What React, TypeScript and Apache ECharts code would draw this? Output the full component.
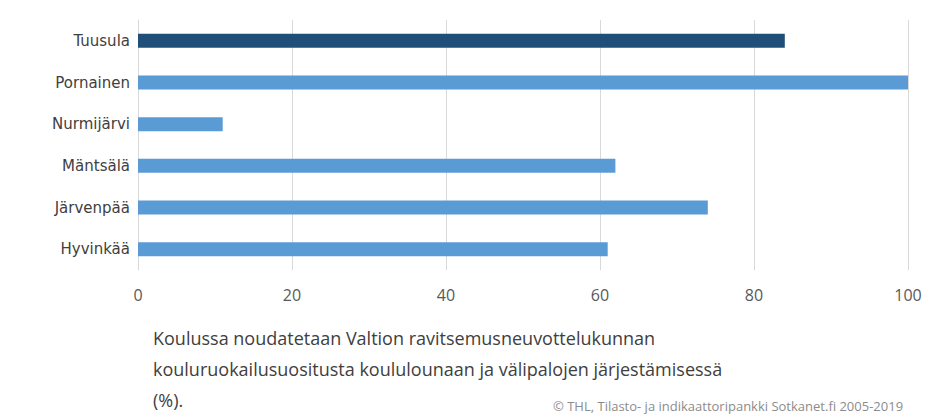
import React, { useEffect, useRef } from "react";
import * as echarts from "echarts";

const categories = ["Hyvinkää", "Järvenpää", "Mäntsälä", "Nurmijärvi", "Pornainen", "Tuusula"];
const values = [61, 74, 62, 11, 100, 84];
const highlight = "Tuusula";
const xTicks = [0, 20, 40, 60, 80, 100];
const titleLines = [
  "Koulussa noudatetaan Valtion ravitsemusneuvottelukunnan",
  "kouluruokailusuositusta koululounaan ja välipalojen järjestämisessä",
  "(%).",
];
const sourceText = "© THL, Tilasto- ja indikaattoripankki Sotkanet.fi 2005-2019";

const FONT = "'Open Sans', 'Noto Sans', sans-serif";
const LFONT = "'DejaVu Sans', sans-serif";

export default function App() {
  const ref = useRef<HTMLDivElement>(null);
  useEffect(() => {
    if (!ref.current) return;
    const chart = echarts.init(ref.current, null, { renderer: "svg" });
    chart.setOption({
      animation: false,
      backgroundColor: "#ffffff",
      grid: { left: 138, right: 20, top: 20, height: 250 },
      xAxis: {
        type: "value",
        min: xTicks[0],
        max: xTicks[xTicks.length - 1],
        interval: xTicks[1] - xTicks[0],
        axisLine: { show: false },
        axisTick: { show: false },
        splitLine: { show: true, lineStyle: { color: "#d9d9d9", width: 1 } },
        axisLabel: {
          color: "#595959",
          fontSize: 16,
          fontFamily: FONT,
          margin: 17,
          showMaxLabel: true,
        },
      },
      yAxis: {
        type: "category",
        data: categories,
        axisLine: { show: true, lineStyle: { color: "#d9d9d9" } },
        axisTick: { show: false },
        axisLabel: { color: "#404040", fontSize: 15, fontFamily: LFONT, margin: 8 },
      },
      series: [
        {
          type: "bar",
          barWidth: 14,
          data: values.map((v, i) => ({
            value: v,
            itemStyle: { color: categories[i] === highlight ? "#1f4e79" : "#5b9bd5" },
          })),
        },
      ],
      graphic: [
        ...titleLines.map((t, i) => ({
          type: "text",
          left: 153,
          top: 329 + i * 31,
          style: { text: t, fill: "#404040", font: `18px ${FONT}` },
        })),
        {
          type: "text",
          left: 553,
          top: 399,
          style: { text: sourceText, fill: "#8c8c8c", font: `13px ${FONT}` },
        },
      ],
    });
    return () => chart.dispose();
  }, []);
  return (
    <div
      ref={ref}
      style={{ position: "fixed", left: 0, top: 0, width: 928, height: 419 }}
    />
  );
}
